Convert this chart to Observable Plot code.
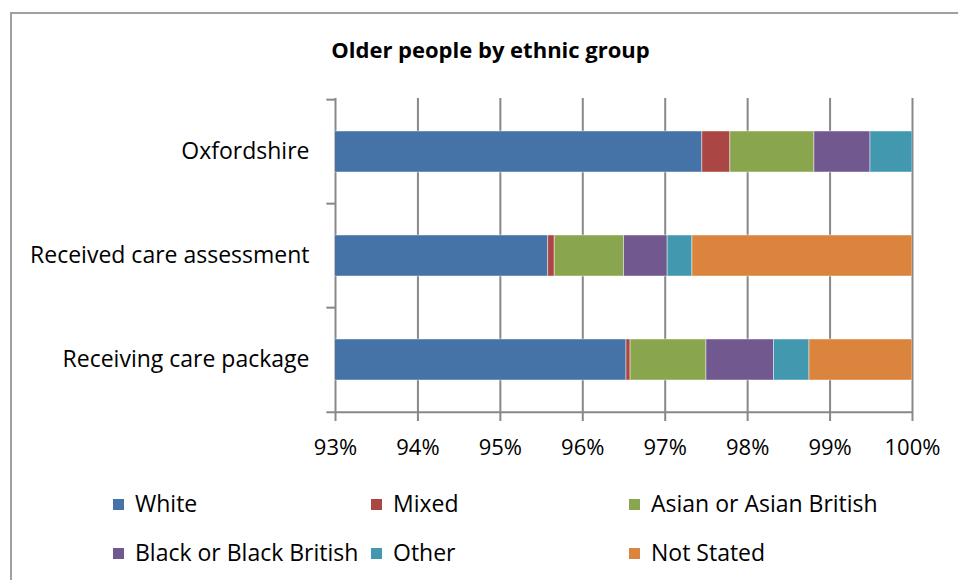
<!DOCTYPE html>
<html>
<head>
<meta charset="utf-8">
<script src="https://cdn.jsdelivr.net/npm/d3@7"></script>
<script src="https://cdn.jsdelivr.net/npm/@observablehq/plot@0.6"></script>
<style>
  html, body { margin: 0; padding: 0; background: #fff; }
  body { width: 958px; height: 580px; overflow: hidden; position: relative; font-family: "Open Sans", sans-serif; }
  #frame { position: absolute; left: 10px; top: 12px; width: 1100px; height: 1100px; border-left: 2px solid #a0a0a0; border-top: 2px solid #a0a0a0; box-sizing: border-box; }
  #title { position: absolute; left: 0; width: 981px; top: 34px; text-align: center; font-weight: bold; font-size: 22px; line-height: 30px; color: #000; }
  #chart { position: absolute; left: 0; top: 0; }
  .lg { position: absolute; font-size: 23px; color: #000; white-space: nowrap; line-height: 26px; }
  .lg span.sw { display: inline-block; width: 11px; height: 11px; margin-right: 11px; vertical-align: 2px; }
</style>
</head>
<body>
<div id="frame"></div>
<div id="chart"></div>
<div id="title">Older people by ethnic group</div>
<div id="legend"></div>
<script>
const categories = ["Oxfordshire", "Received care assessment", "Receiving care package"];
const groups = ["White", "Mixed", "Asian or Asian British", "Black or Black British", "Other", "Not Stated"];
const colors = ["#4572A7", "#AA4643", "#89A54E", "#71588F", "#4198AF", "#DB843D"];
const white = [97.45, 95.58, 96.53];
const mixed = [0.34, 0.08, 0.05];
const asian = [1.02, 0.84, 0.92];
const black = [0.68, 0.53, 0.82];
const other = [0.51, 0.30, 0.43];
const notStated = [0, 2.67, 1.25];
const xTicks = [93, 94, 95, 96, 97, 98, 99, 100];
const xTickLabels = ["93%", "94%", "95%", "96%", "97%", "98%", "99%", "100%"];

const series = [white, mixed, asian, black, other, notStated];
const rows = [];
categories.forEach((c, i) => {
  groups.forEach((g, j) => rows.push({category: c, group: g, value: series[j][i]}));
});

const H = 480, MT = 98, MB = 68;
const step = (H - MT - MB) / 3;
const grey = "#888888";

const chart = Plot.plot({
  width: 958,
  height: H,
  marginTop: MT,
  marginBottom: MB,
  marginLeft: 335,
  marginRight: 46,
  style: {fontFamily: "Open Sans, sans-serif", color: "#000", background: "transparent", overflow: "visible"},
  x: {domain: [93, 100], label: null},
  y: {domain: categories, paddingInner: 0.61, paddingOuter: 0.305, label: null},
  color: {domain: groups, range: colors},
  marks: [
    Plot.ruleX(xTicks, {stroke: grey, strokeWidth: 2}),
    Plot.barX(rows, Plot.stackX({x: "value", y: "category", fill: "group", order: groups, stroke: "#fff", strokeOpacity: 0.45, strokeWidth: 1, clip: true})),
    Plot.ruleY(categories, {y: d => d, x1: 92.895, x2: 93, dy: -step / 2, stroke: grey, strokeWidth: 2}),
    Plot.ruleY([categories[2]], {y: d => d, x1: 92.895, x2: 100, dy: step / 2, stroke: grey, strokeWidth: 2}),
    Plot.axisX({ticks: xTicks, tickFormat: d => xTickLabels[xTicks.indexOf(d)], tickSize: 9, tickPadding: 18, fontSize: 22, stroke: grey, strokeWidth: 2, fill: "#000", label: null}),
    Plot.axisY({tickSize: 0, tickPadding: 26, fontSize: 23, fill: "#000", label: null})
  ]
});
document.getElementById("chart").appendChild(chart);

const legendPos = [[113, 490], [371, 490], [629, 490], [113, 539], [371, 539], [629, 539]];
const lg = document.getElementById("legend");
groups.forEach((g, i) => {
  const d = document.createElement("div");
  d.className = "lg";
  d.style.left = legendPos[i][0] + "px";
  d.style.top = legendPos[i][1] + "px";
  d.innerHTML = `<span class="sw" style="background:${colors[i]}"></span>${g}`;
  lg.appendChild(d);
});
</script>
</body>
</html>
